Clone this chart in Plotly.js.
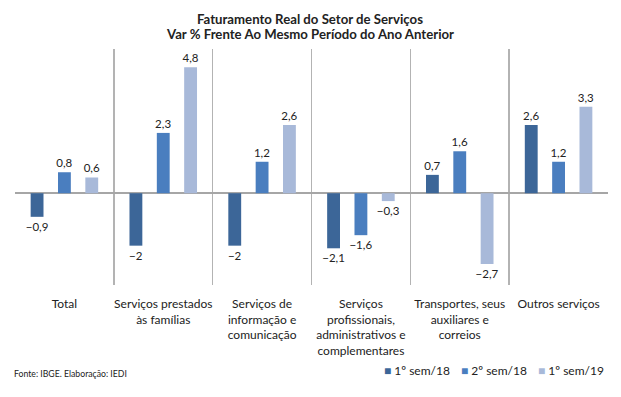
<!DOCTYPE html>
<html>
<head>
<meta charset="utf-8">
<script src="https://cdn.plot.ly/plotly-3.0.1.min.js"></script>
<style>html,body{margin:0;padding:0;background:#fff;}#chart{width:621px;height:397px;}</style>
</head>
<body>
<div id="chart"></div>
<script>
const categories = [
  "Total",
  "Serviços prestados<br>às famílias",
  "Serviços de<br>informação e<br>comunicação",
  "Serviços<br>profissionais,<br>administrativos e<br>complementares",
  "Transportes, seus<br>auxiliares e<br>correios",
  "Outros serviços"
];
const seriesNames = ["1º sem/18", "2º sem/18", "1º sem/19"];
const sem1_18 = [-0.9, -2, -2, -2.1, 0.7, 2.6];
const sem2_18 = [0.8, 2.3, 1.2, -1.6, 1.6, 1.2];
const sem1_19 = [0.6, 4.8, 2.6, -0.3, -2.7, 3.3];
const colors = ["#3c6698", "#4a7ebf", "#a8b9d9"];
const titleLines = ["Faturamento Real do Setor de Serviços", "Var % Frente Ao Mesmo Período do Ano Anterior"];
const sourceText = "Fonte: IBGE. Elaboração: IEDI";

const FONT = "Lato, 'Open Sans', sans-serif";
const vals = [sem1_18, sem2_18, sem1_19];
const traces = vals.map((v, i) => ({
  type: "bar",
  x: categories,
  y: v,
  name: seriesNames[i],
  marker: {color: colors[i]},
  texttemplate: "%{y}",
  textposition: "outside",
  constraintext: "none",
  cliponaxis: false,
  textfont: {family: FONT, size: 11.5, color: "#222"},
  hoverinfo: "skip",
  showlegend: false
}));

// legend drawn as annotations (marker glyph + label)
const legendX = [0.619, 0.749, 0.8786];
const legendAnn = seriesNames.map((n, i) => ({
  text: "<span style='color:" + colors[i] + "'>■</span> " + n,
  xref: "paper", yref: "paper", x: legendX[i], y: -0.3644,
  xanchor: "left", yanchor: "middle", showarrow: false,
  font: {family: FONT, size: 12, color: "#222"}
}));

const titleY = [1.127, 1.0636];
const titleAnn = titleLines.map((t, i) => ({
  text: "<b>" + t + "</b>",
  xref: "paper", yref: "paper", x: 0.497, y: titleY[i],
  xanchor: "center", yanchor: "middle", showarrow: false,
  font: {family: FONT, size: 13.2, color: "#222"}
}));

const layout = {
  width: 621, height: 397,
  margin: {l: 15, r: 13, t: 49, b: 112},
  separators: ",.",
  paper_bgcolor: "#fff", plot_bgcolor: "#fff",
  font: {family: FONT, color: "#222"},
  barmode: "group",
  bargap: 0.17,
  bargroupgap: 0.53,
  xaxis: {
    type: "category",
    tickson: "boundaries",
    showgrid: true, gridcolor: "#b3b3b3", gridwidth: 1.5,
    ticks: "", ticklen: 0,
    ticklabelstandoff: 10,
    showline: false, zeroline: false,
    tickfont: {family: FONT, size: 12, color: "#222"},
    tickangle: 0,
    range: [-0.5, 5.5]
  },
  yaxis: {
    range: [-3.5, 5.5],
    showgrid: false, showticklabels: false, ticks: "",
    zeroline: true, zerolinecolor: "#a6a6a6", zerolinewidth: 1.5,
    showline: false
  },
  annotations: titleAnn.concat([{
    text: sourceText,
    xref: "paper", yref: "paper", x: -0.005, y: -0.377,
    xanchor: "left", yanchor: "middle", showarrow: false,
    font: {family: FONT, size: 8.7, color: "#222"}
  }]).concat(legendAnn),
  showlegend: false
};

Plotly.newPlot("chart", traces, layout, {displayModeBar: false, staticPlot: true});
</script>
</body>
</html>
